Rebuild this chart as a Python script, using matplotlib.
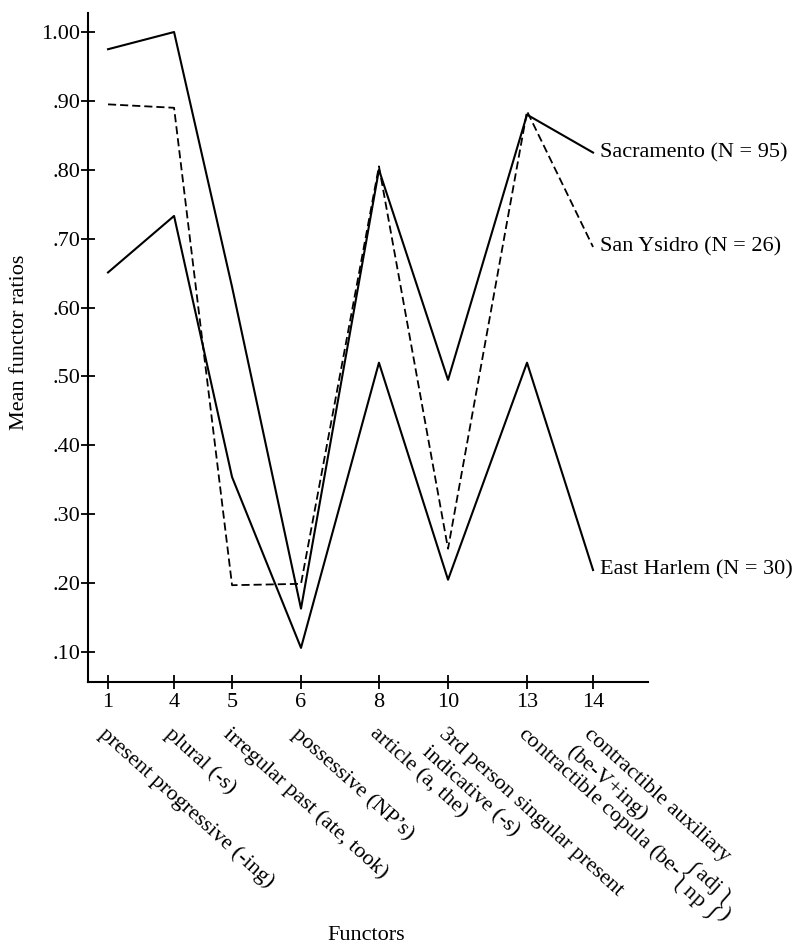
import matplotlib
matplotlib.use("Agg")
import matplotlib.pyplot as plt

plt.rcParams['font.family'] = ['Liberation Serif', 'DejaVu Serif']
plt.rcParams['mathtext.fontset'] = 'custom'
plt.rcParams['mathtext.rm'] = 'Liberation Serif'
plt.rcParams['mathtext.it'] = 'Liberation Serif:italic'

# functor numbers and names along the x axis
functor_ids = ["1", "4", "5", "6", "8", "10", "13", "14"]
functor_names = [
    "present progressive (-ing)",
    "plural (-s)",
    "irregular past (ate, took)",
    "possessive (NP\u2019s)",
    "article (a, the)",
    "3rd person singular present\nindicative (-s)",
    r"contractible copula (be-$\genfrac{\{}{\}}{0}{0}{\mathrm{adj}}{\mathrm{np}}$)",
    "contractible auxiliary\n(be-V+ing)",
]
# the hand-drawn axis is not evenly spaced
functor_pos = [0, 0.953, 1.79, 2.785, 3.91, 4.907, 6.047, 7.0]

# mean functor ratios
sacramento = [0.975, 1.00, 0.63, 0.163, 0.80, 0.495, 0.88, 0.825]
san_ysidro = [0.895, 0.89, 0.197, 0.199, 0.805, 0.25, 0.885, 0.688]
east_harlem = [0.651, 0.733, 0.354, 0.106, 0.52, 0.205, 0.52, 0.219]

series_labels = ["Sacramento (N = 95)", "San Ysidro (N = 26)", "East Harlem (N = 30)"]

ytick_vals = [0.10, 0.20, 0.30, 0.40, 0.50, 0.60, 0.70, 0.80, 0.90, 1.00]
ytick_text = [".10", ".20", ".30", ".40", ".50", ".60", ".70", ".80", ".90", "1.00"]

fig = plt.figure(figsize=(8.03, 9.46), dpi=100)
ax = fig.add_axes([88 / 803, 1 - 682 / 946, 560 / 803, 669 / 946])

ax.plot(functor_pos, sacramento, color='black', lw=1.5)
ax.plot(functor_pos, san_ysidro, color='black', lw=1.3, linestyle=(0, (4.5, 2.2)))
ax.plot(functor_pos, east_harlem, color='black', lw=1.5)

for vals, lab in zip([sacramento, san_ysidro, east_harlem], series_labels):
    ax.annotate(lab, xy=(functor_pos[-1], vals[-1]), xytext=(7, 0),
                textcoords='offset pixels', ha='left', va='center',
                fontsize=16, annotation_clip=False)

ax.set_xlim(-0.289, 7.793)
ax.set_ylim(0.0565, 1.0276)

ax.spines['top'].set_visible(False)
ax.spines['right'].set_visible(False)
ax.spines['left'].set_linewidth(1.5)
ax.spines['bottom'].set_linewidth(1.5)

ax.set_yticks(ytick_vals)
ax.set_yticklabels(ytick_text)
ax.set_xticks(functor_pos)
ax.set_xticklabels(functor_ids)
ax.tick_params(axis='both', direction='inout', length=10, width=1.3, labelsize=16)
ax.tick_params(axis='y', pad=0.5)
ax.tick_params(axis='x', pad=3)

# slanted functor names under the numbers, one annotation per text line
for p, name in zip(functor_pos, functor_names):
    for i, line in enumerate(name.split("\n")):
        ax.annotate(line, xy=(p, 0), xycoords=('data', 'axes fraction'),
                    xytext=(-10 - i * 16.7, -53 - i * 18.6), textcoords='offset pixels',
                    rotation=-42, rotation_mode='anchor', ha='left', va='baseline',
                    fontsize=16, annotation_clip=False)

fig.text(20 / 803, 1 - 342 / 946, "Mean functor ratios", rotation=90,
         ha='center', va='center', fontsize=16)
fig.text(366 / 803, 1 / 946, "Functors", ha='center', va='bottom', fontsize=16)

fig.savefig("out.png", dpi=100, facecolor='white')
